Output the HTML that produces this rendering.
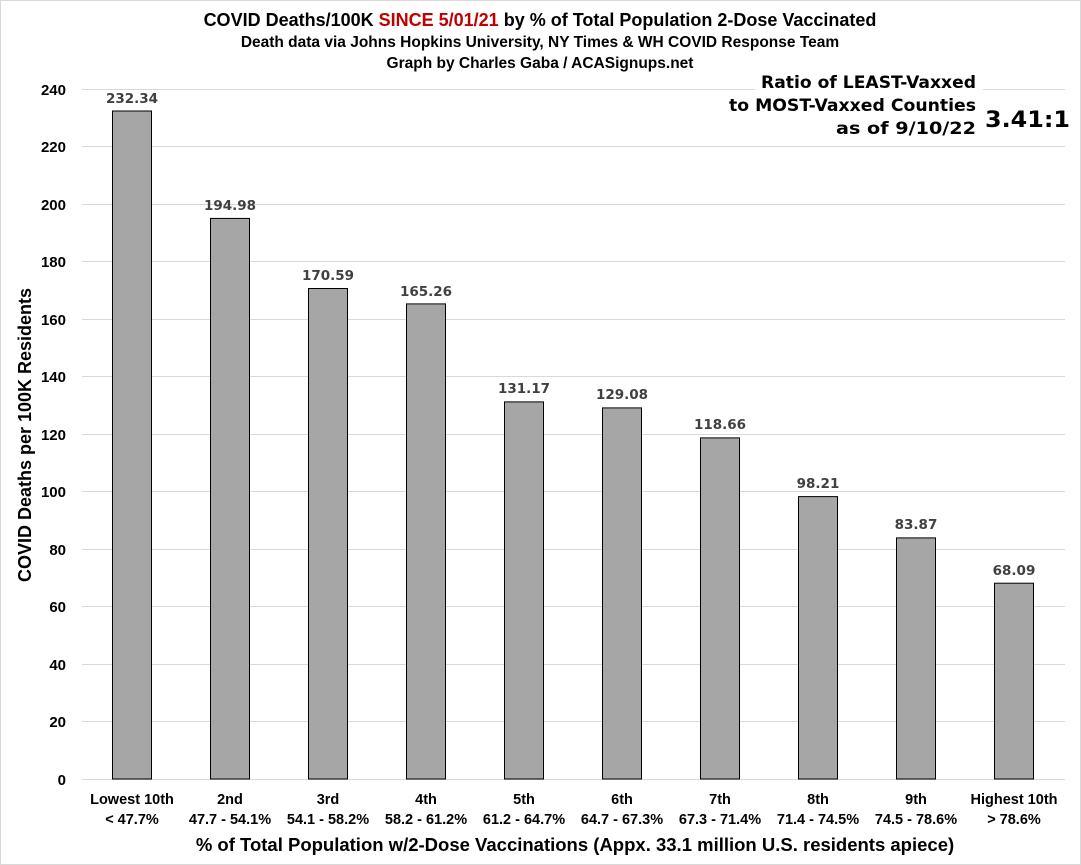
<!DOCTYPE html>
<html><head><meta charset="utf-8"><style>
html,body{margin:0;padding:0;background:#fff}
svg{display:block}
</style></head><body>
<svg width="1081" height="865" viewBox="0 0 1081 865" xmlns="http://www.w3.org/2000/svg" font-family="Liberation Sans, Arial, sans-serif">
<rect x="0.5" y="0.5" width="1080" height="864" fill="#fff" stroke="#d9d9d9"/>
<g stroke="#d9d9d9" stroke-width="1">
<line x1="82" x2="1065" y1="89.5" y2="89.5"/><line x1="82" x2="1065" y1="146.5" y2="146.5"/>
<line x1="82" x2="1065" y1="204.5" y2="204.5"/><line x1="82" x2="1065" y1="261.5" y2="261.5"/>
<line x1="82" x2="1065" y1="319.5" y2="319.5"/><line x1="82" x2="1065" y1="376.5" y2="376.5"/>
<line x1="82" x2="1065" y1="434.5" y2="434.5"/><line x1="82" x2="1065" y1="491.5" y2="491.5"/>
<line x1="82" x2="1065" y1="549.5" y2="549.5"/><line x1="82" x2="1065" y1="606.5" y2="606.5"/>
<line x1="82" x2="1065" y1="664.5" y2="664.5"/><line x1="82" x2="1065" y1="721.5" y2="721.5"/>
<line x1="82" x2="1065" y1="779.5" y2="779.5"/>
</g>
<text x="540" y="26" text-anchor="middle" font-size="18" font-weight="bold">COVID Deaths/100K <tspan fill="#c00000">SINCE 5/01/21</tspan> by % of Total Population 2-Dose Vaccinated</text>
<text x="540" y="47" text-anchor="middle" font-size="15.5" font-weight="bold">Death data via Johns Hopkins University, NY Times &amp; WH COVID Response Team</text>
<text x="540" y="68" text-anchor="middle" font-size="15.5" font-weight="bold">Graph by Charles Gaba / ACASignups.net</text>
<rect x="755" y="75" width="228" height="30" fill="#fff"/>
<g style="font-family:'DejaVu Sans',sans-serif" font-size="17" font-weight="bold" fill="#000" text-anchor="end">
<text x="976" y="88" textLength="215" lengthAdjust="spacingAndGlyphs">Ratio of LEAST-Vaxxed</text>
<text x="976" y="111" textLength="247" lengthAdjust="spacingAndGlyphs">to MOST-Vaxxed Counties</text>
<text x="976" y="134" textLength="140" lengthAdjust="spacingAndGlyphs">as of 9/10/22</text>
</g>
<text x="1070" y="127" text-anchor="end" style="font-family:'DejaVu Sans',sans-serif" font-size="22" font-weight="bold" textLength="85" lengthAdjust="spacingAndGlyphs">3.41:1</text>
<g font-size="15" font-weight="bold" text-anchor="end">
<text x="66" y="95">240</text><text x="66" y="152">220</text><text x="66" y="210">200</text>
<text x="66" y="267">180</text><text x="66" y="325">160</text><text x="66" y="382">140</text>
<text x="66" y="440">120</text><text x="66" y="497">100</text><text x="66" y="555">80</text>
<text x="66" y="612">60</text><text x="66" y="670">40</text><text x="66" y="727">20</text>
<text x="66" y="785">0</text>
</g>
<text transform="translate(31,435) rotate(-90)" text-anchor="middle" font-size="18" font-weight="bold">COVID Deaths per 100K Residents</text>
<g fill="#a6a6a6" stroke="#000" stroke-width="1">
<rect x="112.5" y="111" width="39" height="668"/>
<rect x="210.5" y="218.4" width="39" height="560.6"/>
<rect x="308.5" y="288.5" width="39" height="490.5"/>
<rect x="406.5" y="303.9" width="39" height="475.1"/>
<rect x="504.5" y="401.9" width="39" height="377.1"/>
<rect x="602.5" y="407.9" width="39" height="371.1"/>
<rect x="700.5" y="437.9" width="39" height="341.1"/>
<rect x="798.5" y="496.6" width="39" height="282.4"/>
<rect x="896.5" y="537.9" width="39" height="241.1"/>
<rect x="994.5" y="583.2" width="39" height="195.8"/>
</g>
<g style="font-family:'DejaVu Sans',sans-serif" font-size="13.5" font-weight="bold" fill="#404040" text-anchor="middle">
<text x="132" y="103">232.34</text><text x="230" y="210">194.98</text><text x="328" y="280">170.59</text>
<text x="426" y="296">165.26</text><text x="524" y="393">131.17</text><text x="622" y="399">129.08</text>
<text x="720" y="429">118.66</text><text x="818" y="488">98.21</text><text x="916" y="529">83.87</text>
<text x="1014" y="575">68.09</text>
</g>
<g font-size="14.5" font-weight="bold" text-anchor="middle">
<text x="132" y="804">Lowest 10th</text><text x="132" y="824">&lt; 47.7%</text>
<text x="230" y="804">2nd</text><text x="230" y="824">47.7 - 54.1%</text>
<text x="328" y="804">3rd</text><text x="328" y="824">54.1 - 58.2%</text>
<text x="426" y="804">4th</text><text x="426" y="824">58.2 - 61.2%</text>
<text x="524" y="804">5th</text><text x="524" y="824">61.2 - 64.7%</text>
<text x="622" y="804">6th</text><text x="622" y="824">64.7 - 67.3%</text>
<text x="720" y="804">7th</text><text x="720" y="824">67.3 - 71.4%</text>
<text x="818" y="804">8th</text><text x="818" y="824">71.4 - 74.5%</text>
<text x="916" y="804">9th</text><text x="916" y="824">74.5 - 78.6%</text>
<text x="1014" y="804">Highest 10th</text><text x="1014" y="824">&gt; 78.6%</text>
</g>
<text x="575" y="851" text-anchor="middle" font-size="18.5" font-weight="bold">% of Total Population w/2-Dose Vaccinations (Appx. 33.1 million U.S. residents apiece)</text>
</svg>
</body></html>
